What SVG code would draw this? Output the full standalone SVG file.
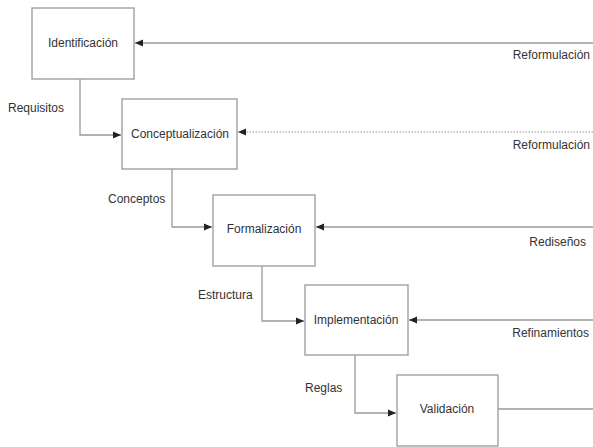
<svg xmlns="http://www.w3.org/2000/svg" width="593" height="447" viewBox="0 0 593 447">
<defs>
<marker id="ah" viewBox="0 0 8 8" refX="8" refY="4" markerWidth="8" markerHeight="8" markerUnits="userSpaceOnUse" orient="auto">
<path d="M0,0.5 L8,4 L0,7.5 Z" fill="#222"/>
</marker>
</defs>
<style>
.box{fill:#fff;stroke:#999;stroke-width:1.3}
.t{font-family:"Liberation Sans",Arial,sans-serif;font-size:12px;fill:#333}
.c{text-anchor:middle}
.e{text-anchor:end}
.ln{fill:none;stroke:#999;stroke-width:1.3}
.dot{fill:none;stroke:#bbb;stroke-width:1.3;stroke-dasharray:1.5 1.5}
</style>
<rect width="593" height="447" fill="#fff"/>
<g id="connectors">
<path class="ln" d="M593,43 L135,43" marker-end="url(#ah)"/>
<path class="dot" d="M593,132 L238,132" marker-end="url(#ah)"/>
<path class="ln" d="M593,227 L316,227" marker-end="url(#ah)"/>
<path class="ln" d="M593,320 L409,320" marker-end="url(#ah)"/>
<path class="ln" d="M498,409 L593,409"/>
<path class="ln" d="M80,79 L80,135 L121,135" marker-end="url(#ah)"/>
<path class="ln" d="M172,169 L172,227 L212,227" marker-end="url(#ah)"/>
<path class="ln" d="M262,266 L262,321 L304,321" marker-end="url(#ah)"/>
<path class="ln" d="M355,355 L355,413 L396,413" marker-end="url(#ah)"/>
<text class="t e" x="590" y="59">Reformulación</text>
<text class="t e" x="590" y="149">Reformulación</text>
<text class="t e" x="586" y="246">Rediseños</text>
<text class="t e" x="589" y="337">Refinamientos</text>
<text class="t" x="8" y="112">Requisitos</text>
<text class="t" x="108" y="203">Conceptos</text>
<text class="t" x="198" y="299">Estructura</text>
<text class="t" x="305" y="392">Reglas</text>
</g>
<g id="identificacion">
<rect class="box" x="32" y="8" width="102" height="71"/>
<text class="t c" x="83" y="47">Identificación</text>
</g>
<g id="conceptualizacion">
<rect class="box" x="122" y="99" width="115" height="70"/>
<text class="t c" x="180" y="138">Conceptualización</text>
</g>
<g id="formalizacion">
<rect class="box" x="213" y="195" width="102" height="71"/>
<text class="t c" x="264" y="233">Formalización</text>
</g>
<g id="implementacion">
<rect class="box" x="305" y="285" width="103" height="70"/>
<text class="t c" x="356" y="324">Implementación</text>
</g>
<g id="validacion">
<rect class="box" x="397" y="375" width="101" height="71"/>
<text class="t c" x="447" y="413">Validación</text>
</g>
</svg>
